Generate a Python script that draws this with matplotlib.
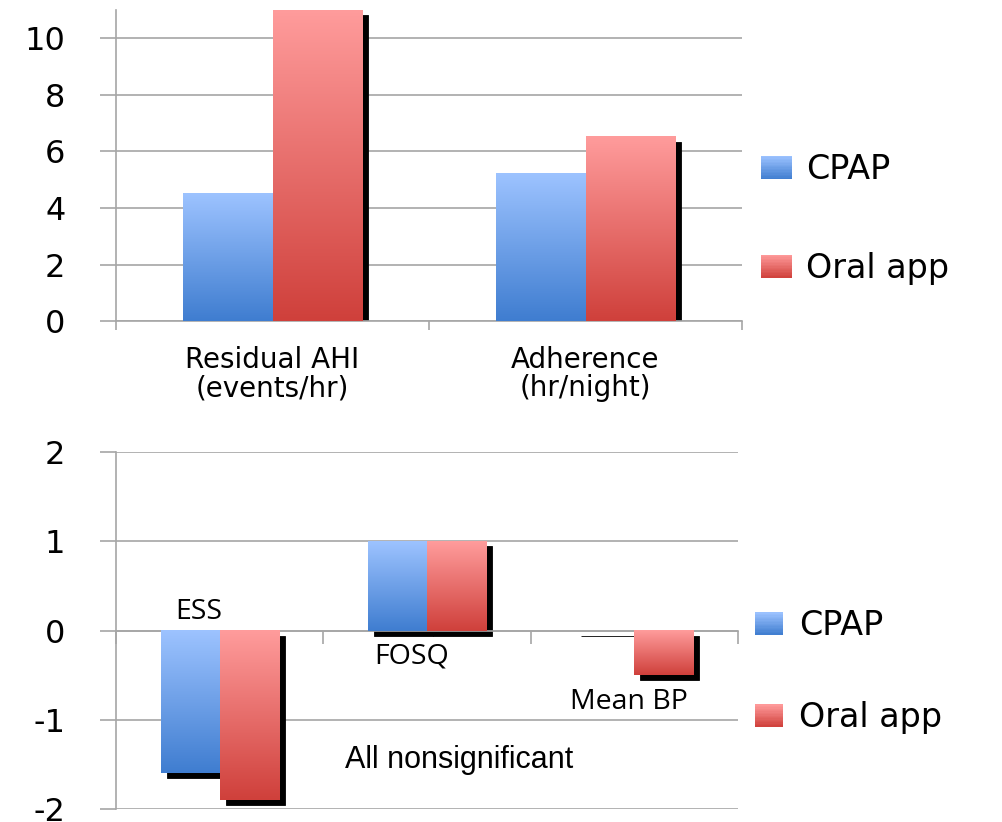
import numpy as np
import matplotlib
matplotlib.use("Agg")
import matplotlib.pyplot as plt
from matplotlib.colors import LinearSegmentedColormap, to_rgb
from matplotlib.patches import Rectangle
from matplotlib.legend_handler import HandlerBase
from matplotlib.container import BarContainer
from matplotlib.transforms import ScaledTranslation

plt.rcParams["axes.unicode_minus"] = False
plt.rcParams["font.family"] = ["DejaVu Sans"]

# ---- data -------------------------------------------------------------
series = ["CPAP", "Oral app"]

top_categories = ["Residual AHI\n(events/hr)", "Adherence\n(hr/night)"]
top_cpap = [4.5, 5.2]
top_oral = [11.0, 6.5]
top_ticks = [0, 2, 4, 6, 8, 10]

bottom_categories = ["ESS", "FOSQ", "Mean BP"]
bottom_cpap = [-1.6, 1.0, 0.0]
bottom_oral = [-1.9, 1.0, -0.5]
bottom_ticks = [-2, -1, 0, 1, 2]
note_text = "All nonsignificant"

# light (top) and dark (bottom) shade of each series
shades = {"CPAP": ("#9DC3FF", "#3F7DD0"), "Oral app": ("#FF9C9C", "#CF403B")}

GRID = "#A6A6A6"
W, H = 1002, 822
BAR_W = 0.285

fig = plt.figure(figsize=(W / 100, H / 100), dpi=100)
shadow_shift = ScaledTranslation(6 / 100, -5 / 100, fig.dpi_scale_trans)


def gradient_bars(ax, x, values, name):
    light, dark = shades[name]
    cmap = LinearSegmentedColormap.from_list(name, [dark, light])
    ax.bar(x, values, BAR_W, color="black", edgecolor="black", linewidth=0.6,
           transform=ax.transData + shadow_shift, zorder=2)
    bars = ax.bar(x, values, BAR_W, facecolor="none", edgecolor="none",
                  zorder=3, label=name)
    ramp = np.linspace(0, 1, 256).reshape(-1, 1)
    for rect in bars:
        x0, w = rect.get_x(), rect.get_width()
        y0, h = rect.get_y(), rect.get_height()
        lo, hi = min(y0, y0 + h), max(y0, y0 + h)
        if hi - lo <= 0:
            continue
        ax.imshow(ramp, cmap=cmap, extent=(x0, x0 + w, lo, hi), origin="lower",
                  aspect="auto", interpolation="bilinear", zorder=3)
    return bars


class GradientHandler(HandlerBase):
    def create_artists(self, legend, orig_handle, xdescent, ydescent,
                       width, height, fontsize, trans):
        light, dark = (np.array(to_rgb(c)) for c in shades[orig_handle.get_label()])
        n = 16
        parts = []
        for i in range(n):
            t = (i + 0.5) / n
            col = dark + (light - dark) * t
            parts.append(Rectangle((-xdescent, -ydescent + height * i / n), width,
                                   height / n * 1.05, facecolor=col,
                                   edgecolor="none", transform=trans))
        return parts


def style_axes(ax, ticks):
    ax.set_yticks(ticks)
    ax.yaxis.grid(True, color=GRID, linewidth=1.2)
    ax.set_axisbelow(True)
    ax.tick_params(axis="y", length=11.5, width=1.2, color=GRID, pad=25,
                   labelsize=23)
    for side in ("top", "right"):
        ax.spines[side].set_visible(False)
    for side in ("left", "bottom"):
        ax.spines[side].set_color(GRID)
        ax.spines[side].set_linewidth(1.2)


# ---- upper panel --------------------------------------------------------
ax1 = fig.add_axes([116 / W, 1 - 321.3 / H, 626 / W, 311.6 / H])
x1 = np.arange(len(top_categories))
b1 = gradient_bars(ax1, x1 - BAR_W / 2, top_cpap, series[0])
b2 = gradient_bars(ax1, x1 + BAR_W / 2, top_oral, series[1])
style_axes(ax1, top_ticks)
ax1.set_xlim(-0.5, len(top_categories) - 0.5)
ax1.set_ylim(0, 11)
ax1.set_xticks(np.arange(len(top_categories) + 1) - 0.5)
ax1.set_xticklabels([])
ax1.set_xticks(x1, minor=True)
ax1.set_xticklabels(top_categories, minor=True, linespacing=1.0)
ax1.tick_params(axis="x", which="major", length=6.5, width=1.2, color=GRID)
ax1.tick_params(axis="x", which="minor", length=0, pad=18, labelsize=20)

fig.legend([b1, b2], series, loc="center left",
           bbox_to_anchor=(760.7 / W, 1 - 219 / H), frameon=False, fontsize=24,
           handler_map={BarContainer: GradientHandler()},
           handlelength=0.93, handleheight=0.69, handletextpad=0.43,
           labelspacing=1.97, borderpad=0, borderaxespad=0)

# ---- lower panel --------------------------------------------------------
ax2 = fig.add_axes([116 / W, 1 - 809 / H, 622 / W, 356.7 / H])
x2 = np.arange(len(bottom_categories))
c1 = gradient_bars(ax2, x2 - BAR_W / 2, bottom_cpap, series[0])
c2 = gradient_bars(ax2, x2 + BAR_W / 2, bottom_oral, series[1])
style_axes(ax2, bottom_ticks)
ax2.set_xlim(-0.5, len(bottom_categories) - 0.5)
ax2.set_ylim(-2, 2)
ax2.spines["bottom"].set_position(("data", 0))
ax2.set_xticks(np.arange(len(bottom_categories) + 1) - 0.5)
ax2.set_xticklabels([])
ax2.tick_params(axis="x", which="major", length=9.4, width=1.2, color=GRID)

label_font = dict(family="Open Sans", fontsize=20.5, ha="center", va="baseline")
label_pos = [(-0.10, 0.135), (0.928, -0.37), (1.975, -0.874)]
for name, (lx, ly) in zip(bottom_categories, label_pos):
    ax2.text(lx, ly, name, zorder=5, **label_font)
ax2.text(1.155, -1.536, note_text, family="Liberation Sans", fontsize=22,
         ha="center", va="baseline", zorder=5)

fig.legend([c1, c2], series, loc="center left",
           bbox_to_anchor=(755 / W, 1 - 671.75 / H), frameon=False, fontsize=24,
           handler_map={BarContainer: GradientHandler()},
           handlelength=0.85, handleheight=0.65, handletextpad=0.47,
           labelspacing=1.77, borderpad=0, borderaxespad=0)

fig.savefig("out.png", dpi=100)
